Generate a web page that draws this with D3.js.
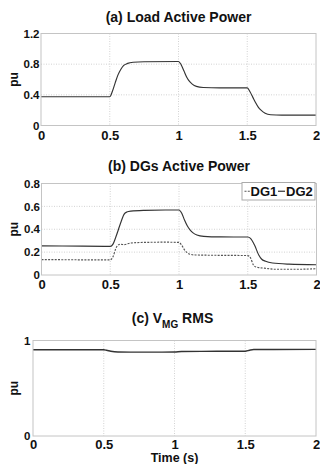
<!DOCTYPE html>
<html><head><meta charset="utf-8">
<script src="https://cdn.jsdelivr.net/npm/d3@7"></script>
<style>
body{margin:0;background:#fff}
svg{display:block;font-family:"Liberation Sans",Arial,sans-serif;font-weight:bold}
</style>
</head><body><svg id="chart" width="320" height="464"></svg>
<script>
// ---- data ----
const timeTicks = [0, 0.5, 1, 1.5, 2];
const xTickLabels = ["0", "0.5", "1", "1.5", "2"];

const loadTicks = [0, 0.4, 0.8, 1.2];
const loadTickLabels = ["0", "0.4", "0.8", "1.2"];
const loadT = [0, 0.5, 0.52, 0.54, 0.56, 0.58, 0.60, 0.63, 0.67, 0.75, 1.0, 1.02, 1.04, 1.06, 1.08, 1.10, 1.13, 1.18, 1.3, 1.5, 1.52, 1.54, 1.56, 1.58, 1.60, 1.63, 1.67, 1.75, 2.0];
const loadP = [0.375, 0.375, 0.45, 0.56, 0.66, 0.73, 0.78, 0.81, 0.825, 0.832, 0.835, 0.79, 0.71, 0.63, 0.575, 0.54, 0.51, 0.495, 0.49, 0.49, 0.44, 0.37, 0.30, 0.24, 0.20, 0.16, 0.14, 0.135, 0.135];

const dgTicks = [0, 0.2, 0.4, 0.6, 0.8];
const dgTickLabels = ["0", "0.2", "0.4", "0.6", "0.8"];
const dg2T = [0, 0.3, 0.5, 0.52, 0.54, 0.56, 0.58, 0.60, 0.62, 0.65, 0.75, 0.9, 1.0, 1.02, 1.04, 1.06, 1.08, 1.10, 1.13, 1.18, 1.3, 1.5, 1.52, 1.55, 1.58, 1.60, 1.63, 1.68, 1.8, 2.0];
const dg2P = [0.255, 0.252, 0.25, 0.27, 0.33, 0.40, 0.47, 0.53, 0.55, 0.558, 0.565, 0.568, 0.568, 0.54, 0.48, 0.43, 0.395, 0.37, 0.35, 0.338, 0.333, 0.332, 0.32, 0.26, 0.175, 0.14, 0.12, 0.105, 0.095, 0.09];
const dg1T = [0, 0.5, 0.52, 0.54, 0.56, 0.58, 0.60, 0.65, 0.75, 0.9, 1.0, 1.02, 1.04, 1.06, 1.08, 1.12, 1.3, 1.5, 1.52, 1.54, 1.56, 1.58, 1.62, 1.7, 1.85, 2.0];
const dg1P = [0.135, 0.132, 0.16, 0.23, 0.265, 0.268, 0.265, 0.28, 0.285, 0.287, 0.285, 0.26, 0.22, 0.195, 0.182, 0.175, 0.172, 0.17, 0.15, 0.09, 0.07, 0.065, 0.06, 0.05, 0.05, 0.055];
const legendNames = ["DG1", "DG2"];

const vTicks = [0, 1];
const vTickLabels = ["0", "1"];
const vT = [0, 0.5, 0.52, 0.55, 0.6, 0.8, 1.0, 1.05, 1.3, 1.5, 1.53, 1.56, 1.7, 2.0];
const vP = [0.903, 0.903, 0.898, 0.887, 0.879, 0.878, 0.879, 0.885, 0.887, 0.888, 0.898, 0.905, 0.906, 0.907];

// ---- layout ----
const svg = d3.select("#chart");
const panels = [
  {left: 41, right: 316, top: 33.5, bottom: 125.5, yMax: 1.2, ticks: loadTicks, labels: loadTickLabels,
   title: "(a) Load Active Power", titleY: 22, xPad: 5, yPad: 1.5,
   series: [{t: loadT, v: loadP, dash: null}]},
  {left: 41.5, right: 316.5, top: 183.5, bottom: 275, yMax: 0.8, ticks: dgTicks, labels: dgTickLabels,
   title: "(b) DGs Active Power", titleY: 171, xPad: 4.5, yPad: 1.5,
   series: [{t: dg1T, v: dg1P, dash: "2,1.3"}, {t: dg2T, v: dg2P, dash: null}], legend: true},
  {left: 33, right: 316, top: 340.5, bottom: 436, yMax: 1, ticks: vTicks, labels: vTickLabels,
   title: null, titleY: 322.5, xPad: 3.5, yPad: 2.5,
   series: [{t: vT, v: vP, dash: null}], xlabel: "Time (s)"}
];

panels.forEach((p, pi) => {
  const x = d3.scaleLinear().domain([0, 2]).range([p.left, p.right]);
  const y = d3.scaleLinear().domain([0, p.yMax]).range([p.bottom, p.top]);
  const g = svg.append("g");

  // background + grid
  g.append("rect").attr("x", p.left).attr("y", p.top)
    .attr("width", p.right - p.left).attr("height", p.bottom - p.top).attr("fill", "#fff");
  g.selectAll(".vg").data(timeTicks.slice(1, -1)).join("line")
    .attr("x1", d => x(d)).attr("x2", d => x(d)).attr("y1", p.top).attr("y2", p.bottom)
    .attr("stroke", "#c8c8c8").attr("stroke-width", 0.8).attr("stroke-dasharray", "1,1.5");
  g.selectAll(".hg").data(p.ticks.slice(1, -1)).join("line")
    .attr("y1", d => y(d)).attr("y2", d => y(d)).attr("x1", p.left).attr("x2", p.right)
    .attr("stroke", "#c8c8c8").attr("stroke-width", 0.8).attr("stroke-dasharray", "1,1.5");

  // series
  p.series.forEach(s => {
    const pts = s.t.map((t, i) => [t, s.v[i]]);
    const line = d3.line().x(d => x(d[0])).y(d => y(d[1])).curve(d3.curveMonotoneX);
    g.append("path").attr("d", line(pts)).attr("fill", "none")
      .attr("stroke", s.dash ? "#555" : "#333").attr("stroke-width", pi === 2 ? 1.4 : 1.15)
      .attr("stroke-dasharray", s.dash);
  });

  // frame
  g.append("rect").attr("x", p.left).attr("y", p.top)
    .attr("width", p.right - p.left).attr("height", p.bottom - p.top)
    .attr("fill", "none").attr("stroke", "#c4c4c4").attr("stroke-width", 1);

  // axes
  const xa = d3.axisBottom(x).tickValues(timeTicks).tickFormat((d, i) => xTickLabels[i]).tickSize(0).tickPadding(p.xPad);
  const xg = g.append("g").attr("transform", `translate(0,${p.bottom})`).call(xa);
  xg.select(".domain").remove();
  xg.selectAll("text").attr("font-size", 13).attr("font-family", "Liberation Sans, Arial, sans-serif")
    .attr("font-weight", "bold").attr("fill", "#111");

  const ya = d3.axisLeft(y).tickValues(p.ticks).tickFormat((d, i) => p.labels[i]).tickSize(0).tickPadding(p.yPad);
  const yg = g.append("g").attr("transform", `translate(${p.left},0)`).call(ya);
  yg.select(".domain").remove();
  yg.selectAll("text").attr("font-size", 11.5).attr("font-family", "Liberation Sans, Arial, sans-serif")
    .attr("font-weight", "bold").attr("fill", "#111");

  // y label
  const cy = (p.top + p.bottom) / 2;
  g.append("text").attr("transform", `translate(17.5,${cy}) rotate(-90)`)
    .attr("text-anchor", "middle").attr("font-size", 12).attr("fill", "#111").text("pu");

  // title
  const cx = (p.left + p.right) / 2;
  if (p.title) {
    g.append("text").attr("x", cx).attr("y", p.titleY).attr("text-anchor", "middle")
      .attr("font-size", 14).attr("fill", "#111").text(p.title);
  } else {
    const t = g.append("text").attr("x", cx - 2).attr("y", p.titleY).attr("text-anchor", "middle")
      .attr("font-size", 14).attr("fill", "#111");
    t.append("tspan").text("(c) V");
    t.append("tspan").attr("font-size", 10).attr("dy", 5).text("MG");
    t.append("tspan").attr("dy", -5).text(" RMS");
  }

  if (p.xlabel) {
    g.append("text").attr("x", cx).attr("y", 462.3).attr("text-anchor", "middle")
      .attr("font-size", 12.5).attr("fill", "#111").text(p.xlabel);
  }

  if (p.legend) {
    const lx = 242, ly = 182.5, lw = 73, lh = 17.5, my = ly + lh / 2;
    g.append("rect").attr("x", lx).attr("y", ly).attr("width", lw).attr("height", lh)
      .attr("fill", "#fff").attr("stroke", "#aaa").attr("stroke-width", 1);
    g.append("line").attr("x1", lx + 2.5).attr("x2", lx + 8).attr("y1", my).attr("y2", my)
      .attr("stroke", "#555").attr("stroke-width", 1.2).attr("stroke-dasharray", "2,1.3");
    g.append("text").attr("x", lx + 8.5).attr("y", my + 4.7).attr("font-size", 13).attr("fill", "#111").text(legendNames[0]);
    g.append("line").attr("x1", lx + 36).attr("x2", lx + 43).attr("y1", my).attr("y2", my)
      .attr("stroke", "#333").attr("stroke-width", 1.2);
    g.append("text").attr("x", lx + 44).attr("y", my + 4.7).attr("font-size", 13).attr("fill", "#111").text(legendNames[1]);
  }
});
</script>
</body></html>
